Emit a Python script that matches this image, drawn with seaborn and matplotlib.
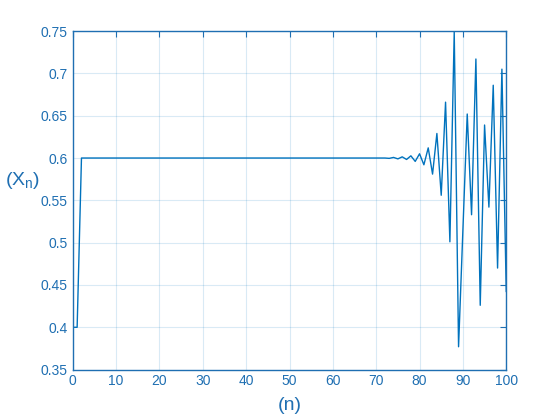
import matplotlib
matplotlib.use("Agg")
import matplotlib.pyplot as plt
import numpy as np
import pandas as pd
import seaborn as sns

# iteration index and values
n_values = list(range(0, 101))
x_start = [0.4, 0.4]
x_flat = [0.6] * 71  # n = 2 .. 72
x_tail = [
    0.5996, 0.6007, 0.5990, 0.6014, 0.5983, 0.6026, 0.5960,   # n = 73 .. 79
    0.605, 0.592, 0.612, 0.581, 0.629, 0.556, 0.666, 0.501,   # n = 80 .. 87
    0.749, 0.377, 0.515, 0.652, 0.533, 0.717, 0.426, 0.639,   # n = 88 .. 95
    0.542, 0.686, 0.470, 0.705, 0.442,                        # n = 96 .. 100
]
x_values = x_start + x_flat + x_tail

x_ticks = list(range(0, 101, 10))
y_ticks = [0.35, 0.4, 0.45, 0.5, 0.55, 0.6, 0.65, 0.7, 0.75]
y_tick_labels = ["0.35", "0.4", "0.45", "0.5", "0.55", "0.6", "0.65", "0.7", "0.75"]

df = pd.DataFrame({"n": n_values, "x": x_values})

BLUE = "#0072BD"
AXC = "#1f6fb2"

sns.set_style("white")
plt.rcParams["font.family"] = ["Liberation Sans", "DejaVu Sans"]
plt.rcParams["mathtext.default"] = "regular"

fig = plt.figure(figsize=(5.6, 4.2), dpi=100)
ax = fig.add_axes([0.130, 0.120, 0.774, 0.806])

sns.lineplot(data=df, x="n", y="x", ax=ax, color=BLUE, lw=1.0)

ax.set_xlim(0, 100)
ax.set_ylim(0.35, 0.75)
ax.set_xticks(x_ticks)
ax.set_yticks(y_ticks)
ax.set_yticklabels(y_tick_labels)

ax.grid(True, color=BLUE, alpha=0.15, lw=0.8)
for s in ax.spines.values():
    s.set_visible(True)
    s.set_color(AXC)
    s.set_linewidth(1.0)
ax.tick_params(direction="in", length=4, width=0.8, colors=AXC,
               labelsize=10, top=True, right=True, labelcolor=AXC)

ax.set_xlabel("(n)", fontsize=14, color=AXC, labelpad=6)
ax.set_ylabel("(X$_n$)", fontsize=14, color=AXC, rotation=0, ha="center", va="center")
ax.yaxis.set_label_coords(-0.115, 0.56)

fig.savefig("out.png", dpi=100)
